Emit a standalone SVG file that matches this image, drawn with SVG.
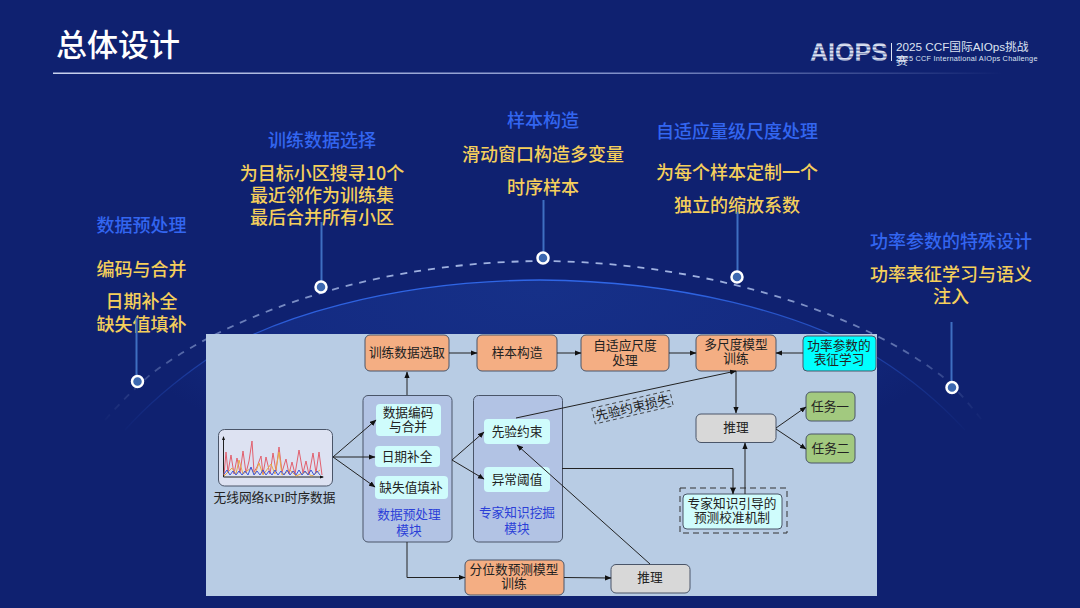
<svg xmlns="http://www.w3.org/2000/svg" width="1080" height="608" viewBox="0 0 1080 608">
<style>
text{font-family:"Noto Sans CJK SC","Liberation Sans",sans-serif}
.h{font-size:18px;fill:#3366F0;text-anchor:middle;font-weight:500}
.b{font-size:18px;fill:#F5CF5B;text-anchor:middle;font-weight:500}
.n{font-size:12.700px;fill:#222;text-anchor:middle}
.m{font-size:12.700px;fill:#2B3FD8;text-anchor:middle}
.box{stroke:#4A5568;stroke-width:1}
.or{fill:#F4AE83}.gr{fill:#D8D8D8}.gn{fill:#A2C97F}.mod{fill:#B2C3E4}.cy{fill:#CFFCFC}
.c{fill:none;stroke:#222;stroke-width:1;marker-end:url(#a)}
.c0{fill:none;stroke:#222;stroke-width:1}
.st{stroke:#3F6FC0;stroke-width:2}
.dot{fill:#3C68B0;stroke:#fff;stroke-width:2.5}
.l{font-family:"Liberation Sans","Noto Sans CJK SC",sans-serif;fill:#DDE3F2}
</style>
<defs>
<marker id="a" markerWidth="7" markerHeight="6" refX="6" refY="3" orient="auto" markerUnits="userSpaceOnUse"><path d="M0,0.4L6.5,3L0,5.6z" fill="#111"/></marker>
<linearGradient id="ln" x1="0" x2="1" y1="0" y2="0"><stop offset="0" stop-color="#C9D2EE"/><stop offset="0.6" stop-color="#7F8FC8"/><stop offset="1" stop-color="#0F2170"/></linearGradient>
<radialGradient id="dome" gradientUnits="userSpaceOnUse" cx="0" cy="0" r="1" gradientTransform="translate(540 290) scale(440 190)"><stop offset="0" stop-color="#163088"/><stop offset="0.6" stop-color="#142B82"/><stop offset="1" stop-color="#0F2170"/></radialGradient>
<linearGradient id="arc1" gradientUnits="userSpaceOnUse" x1="120" x2="970" y1="0" y2="0"><stop offset="0" stop-color="#2C5EDB" stop-opacity="0"/><stop offset="0.2" stop-color="#2C5EDB"/><stop offset="0.35" stop-color="#2F66E6"/><stop offset="0.65" stop-color="#2F66E6"/><stop offset="0.85" stop-color="#2C5EDB" stop-opacity=".65"/><stop offset="1" stop-color="#2C5EDB" stop-opacity="0"/></linearGradient>
<linearGradient id="arc2" gradientUnits="userSpaceOnUse" x1="102" x2="985" y1="0" y2="0"><stop offset="0" stop-color="#8FA3D6" stop-opacity="0"/><stop offset="0.1" stop-color="#8FA3D6" stop-opacity=".6"/><stop offset="0.35" stop-color="#9FB1E0"/><stop offset="0.7" stop-color="#9FB1E0"/><stop offset="0.9" stop-color="#8FA3D6" stop-opacity=".6"/><stop offset="1" stop-color="#8FA3D6" stop-opacity="0"/></linearGradient>
<pattern id="stripe" width="4" height="3.4" patternUnits="userSpaceOnUse"><rect width="4" height="2.2" fill="#DDE3F2"/><rect y="2.2" width="4" height="1.2" fill="#7F8DBB"/></pattern>
</defs>
<rect width="1080" height="608" fill="#0F2170"/>
<path d="M125,430C150,402 180,378 206,360C270,318 390,281 540,280C680,281 800,312 878,358C910,378 940,403 965,430V608H125z" fill="url(#dome)"/>
<path d="M125,430C150,402 180,378 206,360C270,318 390,281 540,280C680,281 800,312 878,358C910,378 940,403 965,430" fill="none" stroke="url(#arc1)" stroke-width="1.3"/>
<path d="M105,420C120,403 135,388 150,375C210,328 350,262 543,261C690,262 850,305 943,377C955,387 970,405 982,420" fill="none" stroke="url(#arc2)" stroke-width="1.8" stroke-dasharray="7 7"/>
<text x="56" y="56" font-size="31" font-weight="500" fill="#fff">总体设计</text>
<rect x="53" y="72.500" width="950" height="1.500" fill="url(#ln)"/>
<text x="810" y="60.500" font-size="25" font-weight="700" fill="url(#stripe)" style="font-family:'Liberation Sans',sans-serif">AIOPS</text>
<rect x="891" y="43" width="1" height="18" fill="#DDE3F2"/>
<text class="l" x="896" y="51" font-size="11.700">2025 CCF国际AIOps挑战</text>
<text class="l" x="896" y="65" font-size="11.700">赛</text>
<text class="l" x="896" y="61" font-size="7.300" letter-spacing=".25">2025 CCF International AIOps Challenge</text>

<text class="h" x="141.500" y="231.500">数据预处理</text>
<text class="b" x="141.500" y="275.500">编码与合并</text>
<text class="b" x="141.500" y="308">日期补全<tspan x="141.500" dy="23">缺失值填补</tspan></text>
<text class="h" x="322" y="146.500">训练数据选择</text>
<text class="b" x="322" y="179.500">为目标小区搜寻10个<tspan x="322" dy="22">最近邻作为训练集</tspan><tspan x="322" dy="22">最后合并所有小区</tspan></text>
<text class="h" x="543" y="126.500">样本构造</text>
<text class="b" x="543" y="160.500">滑动窗口构造多变量</text>
<text class="b" x="543" y="193.500">时序样本</text>
<text class="h" x="737" y="137.500">自适应量级尺度处理</text>
<text class="b" x="737" y="179">为每个样本定制一个</text>
<text class="b" x="737" y="212">独立的缩放系数</text>
<text class="h" x="951" y="248">功率参数的特殊设计</text>
<text class="b" x="951" y="280.500">功率表征学习与语义<tspan x="951" dy="22">注入</tspan></text>

<line class="st" x1="136.500" y1="318" x2="136.500" y2="376"/>
<line class="st" x1="321.500" y1="222" x2="321.500" y2="281"/>
<line class="st" x1="543.500" y1="200" x2="543.500" y2="252"/>
<line class="st" x1="737.500" y1="212" x2="737.500" y2="271"/>
<line class="st" x1="951.500" y1="322" x2="951.500" y2="381"/>
<circle class="dot" cx="137.500" cy="381.500" r="5.500"/>
<circle class="dot" cx="321" cy="287" r="5.500"/>
<circle class="dot" cx="543" cy="258" r="5.500"/>
<circle class="dot" cx="737" cy="277" r="5.500"/>
<circle class="dot" cx="952" cy="387.500" r="5.500"/>

<rect x="206" y="334" width="671" height="262" fill="#B8CCE4"/>

<g id="kpi">
<rect class="box" x="218.500" y="429.500" width="114" height="56.500" rx="6" fill="#DDE2F2"/>
<path class="c0" d="M223.500,437V477H323"/>
<path d="M223.500,436l-1.500,4h3zM324,477l-4,-1.500v3z" fill="#111"/>
<polyline fill="none" stroke="#E2606E" stroke-width="1" points="224,475 226,452 228,472 231,455 234,474 237,458 240,473 243,451 246,473 249,461 252,441 254,472 257,467 261,456 263,474 266,457 270,474 273,453 276,471 279,447 282,472 286,459 289,474 292,462 295,474 299,450 303,473 306,461 309,475 313,453 316,473 319,452 322,475"/>
<polyline fill="none" stroke="#E8A94A" stroke-width="1" points="224,476 232,468 236,474 239,460 243,474 251,468 255,474 259,463 263,475 271,464 275,474 279,452 282,475 290,470 296,476 305,472 312,476 320,470"/>
<polyline fill="none" stroke="#3F55D8" stroke-width="1" points="224,474 227,470 230,475 233,471 236,475 239,471 242,475 245,471 248,475 251,467 254,475 257,471 260,475 263,470 266,475 269,471 272,475 275,470 278,475 281,471 284,475 287,470 290,475 293,471 296,475 299,470 302,475 305,471 308,475 311,470 314,475 317,471 320,475"/>
<text class="n" x="274.500" y="502">无线网络<tspan style="font-family:'Liberation Serif',serif">KPI</tspan>时序数据</text>
</g>

<g id="train"><rect class="box or" x="365" y="335" width="84" height="36" rx="5"/><text class="n" x="407" y="357">训练数据选取</text></g>
<g id="sample"><rect class="box or" x="477" y="335" width="80" height="36" rx="5"/><text class="n" x="517" y="357">样本构造</text></g>
<g id="scale"><rect class="box or" x="581" y="335" width="88" height="36" rx="5"/><text class="n" x="625" y="350">自适应尺度<tspan x="625" dy="14.500">处理</tspan></text></g>
<g id="multi"><rect class="box or" x="696" y="335" width="80" height="36" rx="5"/><text class="n" x="736" y="349">多尺度模型<tspan x="736" dy="14">训练</tspan></text></g>
<g id="power"><rect class="box" x="803" y="336" width="73" height="35" rx="4" fill="#00FFFF"/><text class="n" x="839" y="350">功率参数的<tspan x="839" dy="14">表征学习</tspan></text></g>
<g id="t1"><rect class="box gn" x="806" y="392" width="49" height="29" rx="5"/><text class="n" x="830" y="411">任务一</text></g>
<g id="t2"><rect class="box gn" x="806" y="434" width="49" height="29" rx="5"/><text class="n" x="830.500" y="453">任务二</text></g>
<g id="inf1"><rect class="box gr" x="696" y="414" width="80" height="28.500" rx="5"/><text class="n" x="736" y="432">推理</text></g>
<g id="expert"><rect x="680" y="488" width="107" height="45" fill="none" stroke="#333" stroke-dasharray="6 4"/><rect class="box" x="683" y="494" width="99" height="35" rx="4" fill="#CFFCFC"/><text class="n" x="732" y="508">专家知识引导的<tspan x="732" dy="14">预测校准机制</tspan></text></g>
<g id="inf2"><rect class="box gr" x="611" y="564.500" width="79" height="28.500" rx="5"/><text class="n" x="650" y="582">推理</text></g>
<g id="quant"><rect class="box or" x="465" y="560" width="99" height="35" rx="5"/><text class="n" x="514" y="574">分位数预测模型<tspan x="514" dy="14">训练</tspan></text></g>

<g id="prep"><rect class="box mod" x="363" y="395.500" width="89" height="146.500" rx="5"/>
<rect class="cy" x="376" y="404" width="65" height="32" rx="4"/><text class="n" x="408" y="417">数据编码<tspan x="408" dy="14">与合并</tspan></text>
<rect class="cy" x="375" y="446" width="65" height="21" rx="4"/><text class="n" x="407" y="461">日期补全</text>
<rect class="cy" x="375" y="476" width="73" height="23" rx="4"/><text class="n" x="411" y="492">缺失值填补</text>
<text class="m" x="409" y="519">数据预处理<tspan x="409" dy="16">模块</tspan></text></g>
<g id="mine"><rect class="box mod" x="473.500" y="395.500" width="89" height="146.500" rx="5"/>
<rect class="cy" x="484" y="419" width="66" height="25" rx="4"/><text class="n" x="517" y="436">先验约束</text>
<rect class="cy" x="484" y="467" width="66" height="25" rx="4"/><text class="n" x="517" y="484">异常阈值</text>
<text class="m" x="517" y="517">专家知识挖掘<tspan x="517" dy="16">模块</tspan></text></g>

<g id="connectors">
<path class="c" d="M333,457L376,420"/>
<path class="c" d="M333,457H375"/>
<path class="c" d="M333,457L375,487"/>
<path class="c" d="M407,395V372"/>
<path class="c" d="M407,542V577.500H465"/>
<path class="c" d="M449,353H477"/>
<path class="c" d="M557,353H581"/>
<path class="c" d="M669,353H696"/>
<path class="c" d="M803,353H776"/>
<path class="c" d="M736,371V413"/>
<path class="c" d="M516,418L736,371"/>
<path class="c" d="M776,428L806,407"/>
<path class="c" d="M776,429L806,449"/>
<path class="c" d="M745,494V443"/>
<path class="c" d="M562,468.500H733V494"/>
<path class="c" d="M650,564L517,445"/>
<path class="c" d="M564,577.500L611,578"/>
<path class="c" d="M452,460L484,432"/>
<path class="c" d="M452,460L484,479"/>
</g>

<g id="loss" transform="rotate(-13 633 407)"><rect x="592.500" y="399" width="80" height="16" fill="none" stroke="#333" stroke-width=".8" stroke-dasharray="4 3"/><text class="n" x="632.500" y="412">先验约束损失</text></g>
</svg>
